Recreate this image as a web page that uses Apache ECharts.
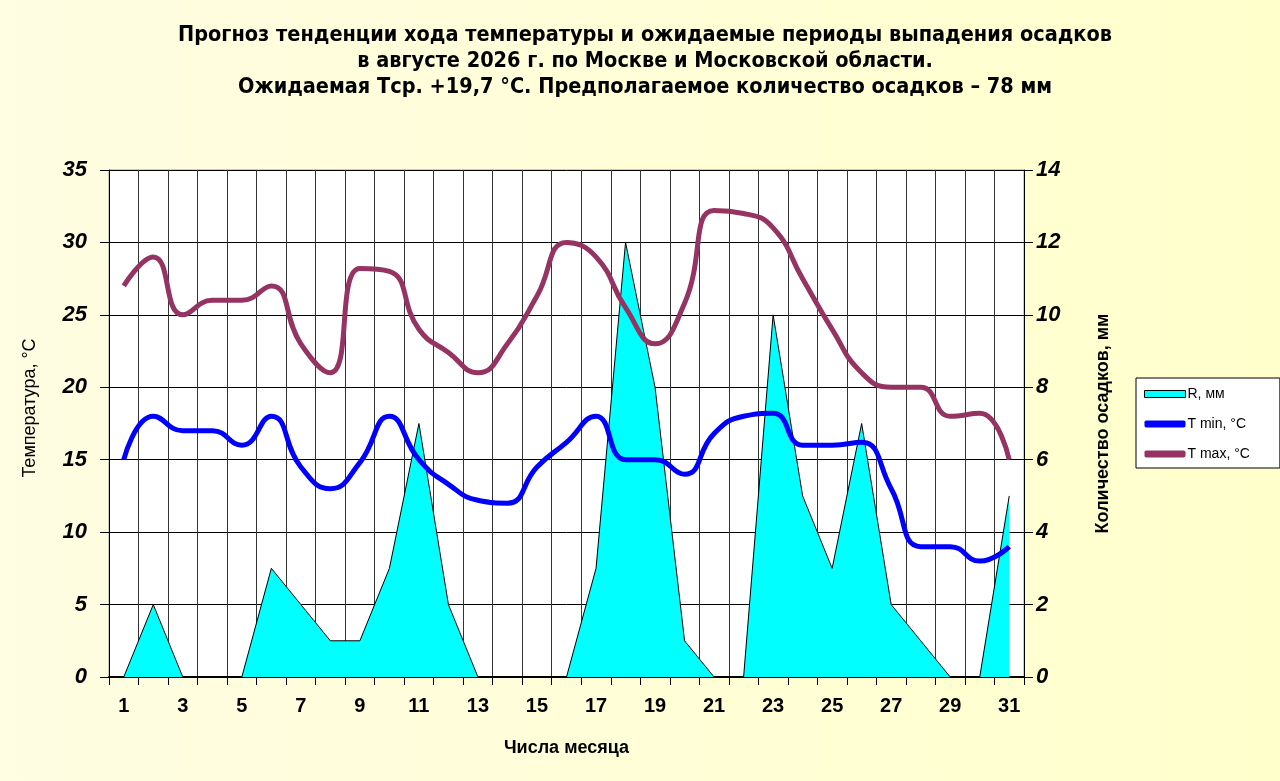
<!DOCTYPE html>
<html>
<head>
<meta charset="utf-8">
<script src="https://cdn.jsdelivr.net/npm/echarts@6/dist/echarts.min.js"></script>
<style>
  html, body { margin: 0; padding: 0; }
  #chart { width: 1280px; height: 781px; }
</style>
</head>
<body>
<div id="chart"></div>
<script>
// дни месяца
const days = ['1', '2', '3', '4', '5', '6', '7', '8', '9', '10', '11', '12', '13', '14', '15', '16',
    '17', '18', '19', '20', '21', '22', '23', '24', '25', '26', '27', '28', '29', '30', '31'];

// осадки, мм (правая ось)
const rain = [0, 2, 0, 0, 0, 3, 2, 1, 1, 3, 7, 2, 0, 0, 0, 0,
    3, 12, 8, 1, 0, 0, 10, 5, 3, 7, 2, 1, 0, 0, 5];

// T min, °C
const tMin = [15, 18, 17, 17, 16, 18, 14.5, 13, 14.8, 18, 15, 13.3, 12.2, 12, 14.5, 16.2,
    18, 15, 15, 14, 16.8, 18, 18.2, 16, 16, 16.2, 13, 9, 9, 8, 9];

// T max, °C
const tMax = [27, 29, 25, 26, 26, 27, 23, 21, 28.2, 28, 24, 22.4, 21, 23, 26.3, 30,
    29, 25.5, 23, 25.8, 32.2, 32, 31, 27.5, 24, 21, 20, 20, 18, 18.2, 15];

const titleLines = [
    'Прогноз тенденции хода температуры и ожидаемые периоды выпадения осадков',
    'в августе 2026 г. по Москве и Московской области.',
    'Ожидаемая Тср. +19,7 °С. Предполагаемое количество осадков – 78 мм'
];

const font = '"Liberation Sans", Arial, sans-serif';

let chart = echarts.init(document.getElementById('chart'));

let option = {
    backgroundColor: {
        type: 'linear', x: 0, y: 0, x2: 1, y2: 0,
        colorStops: [
            {offset: 0, color: '#fffde2'},
            {offset: 1, color: '#ffffcc'}
        ]
    },
    animation: false,
    title: {
        text: titleLines.join('\n'),
        left: 640,
        textAlign: 'center',
        top: 17,
        textStyle: {
            fontFamily: '"Liberation Sans Narrow", "DejaVu Sans Condensed", "Liberation Sans", Arial, sans-serif',
            fontWeight: 'bold',
            fontSize: 21.5,
            lineHeight: 26,
            color: '#000'
        }
    },
    legend: {
        orient: 'vertical',
        left: 1136,
        top: 378,
        padding: [9, 30, 7, 8],
        itemGap: 16,
        itemWidth: 41,
        itemHeight: 7,
        backgroundColor: '#fff',
        borderColor: '#000',
        borderWidth: 1,
        borderRadius: 0,
        textStyle: {fontFamily: font, fontSize: 14, color: '#000', padding: [0, 0, 0, -3]},
        data: [
            {name: 'R, мм', icon: 'rect', itemStyle: {color: '#00ffff', borderColor: '#000', borderWidth: 1}},
            {name: 'T min, °C', icon: 'roundRect', itemStyle: {color: '#0000ff', borderWidth: 0}},
            {name: 'T max, °C', icon: 'roundRect', itemStyle: {color: '#953462', borderWidth: 0}}
        ]
    },
    grid: {
        left: 109,
        right: 256,
        top: 170,
        bottom: 104,
        show: true,
        backgroundColor: '#fff',
        borderColor: '#999',
        borderWidth: 1
    },
    xAxis: {
        type: 'category',
        data: days,
        boundaryGap: true,
        name: 'Числа месяца',
        nameLocation: 'middle',
        nameGap: 62,
        nameTextStyle: {fontFamily: font, fontWeight: 'bold', fontSize: 18, color: '#000'},
        axisLine: {lineStyle: {color: '#000', width: 2}},
        axisTick: {show: true, interval: 0, length: 8, lineStyle: {color: '#000'}},
        axisLabel: {
            interval: 1,
            margin: 19,
            fontFamily: font,
            fontWeight: 'bold',
            fontSize: 20,
            color: '#000'
        },
        splitLine: {show: true, interval: 0, lineStyle: {color: '#333', width: 1}}
    },
    yAxis: [
        {
            type: 'value',
            min: 0,
            max: 35,
            interval: 5,
            position: 'left',
            axisLine: {show: true, lineStyle: {color: '#000', width: 1}},
            axisTick: {show: true, length: 9, lineStyle: {color: '#000'}},
            axisLabel: {
                margin: 22,
                fontFamily: font,
                fontWeight: 'bold',
                fontStyle: 'italic',
                fontSize: 22,
                color: '#000'
            },
            splitLine: {show: true, lineStyle: {color: '#000', width: 1}}
        },
        {
            type: 'value',
            min: 0,
            max: 14,
            interval: 2,
            position: 'right',
            name: 'Количество осадков, мм',
            nameLocation: 'middle',
            nameGap: 70,
            nameTextStyle: {fontFamily: font, fontWeight: 'bold', fontSize: 18, color: '#000'},
            axisLine: {show: true, lineStyle: {color: '#000', width: 1}},
            axisTick: {show: true, length: 9, lineStyle: {color: '#000'}},
            axisLabel: {
                margin: 12,
                fontFamily: font,
                fontWeight: 'bold',
                fontStyle: 'italic',
                fontSize: 22,
                color: '#000'
            },
            splitLine: {show: false}
        }
    ],
    graphic: [
        {
            type: 'text',
            x: 30,
            y: 408,
            rotation: Math.PI / 2,
            style: {
                text: 'Температура, °C',
                fontFamily: font,
                fontSize: 18,
                fill: '#000',
                align: 'center',
                verticalAlign: 'middle'
            }
        }
    ],
    series: [
        {
            name: 'R, мм',
            type: 'line',
            yAxisIndex: 1,
            data: rain,
            symbol: 'none',
            lineStyle: {color: '#000', width: 1},
            itemStyle: {color: '#00ffff', borderColor: '#000'},
            areaStyle: {color: '#00ffff', opacity: 1},
            z: 2
        },
        {
            name: 'T min, °C',
            type: 'line',
            yAxisIndex: 0,
            data: tMin,
            smooth: 0.5,
            symbol: 'none',
            lineStyle: {color: '#0000ff', width: 5},
            itemStyle: {color: '#0000ff'},
            z: 3
        },
        {
            name: 'T max, °C',
            type: 'line',
            yAxisIndex: 0,
            data: tMax,
            smooth: 0.5,
            symbol: 'none',
            lineStyle: {color: '#953462', width: 5},
            itemStyle: {color: '#953462'},
            z: 4
        }
    ]
};

chart.setOption(option);
</script>
</body>
</html>
